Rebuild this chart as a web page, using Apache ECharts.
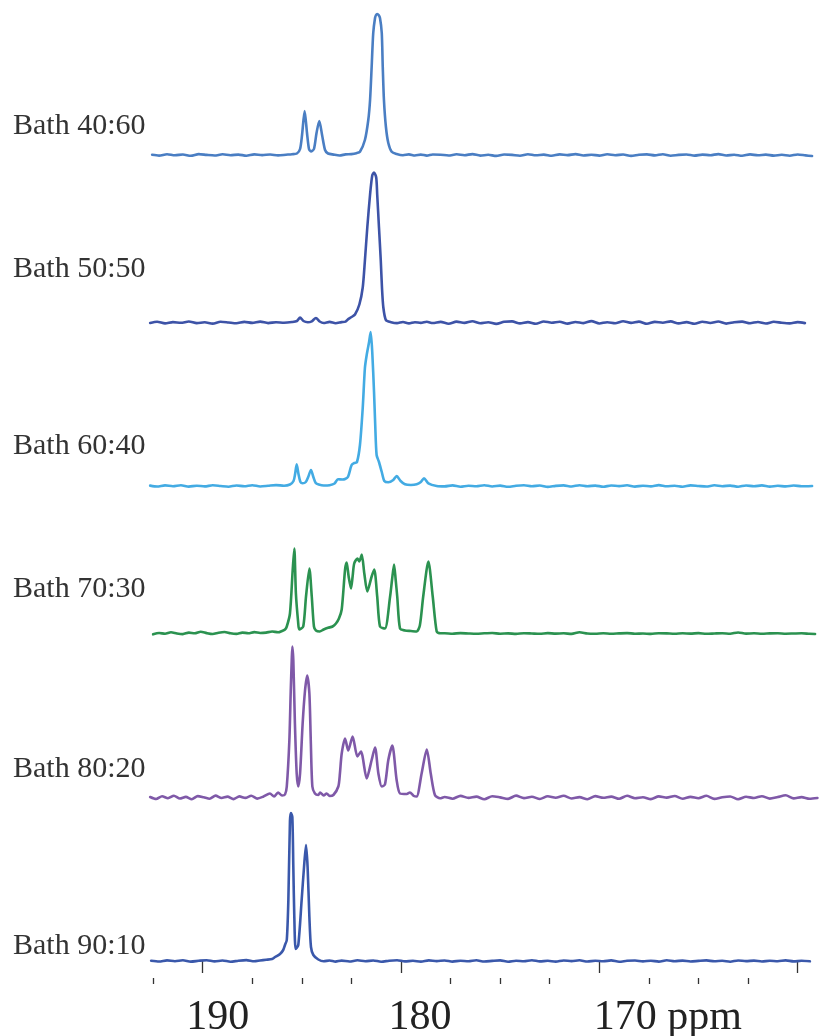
<!DOCTYPE html>
<html>
<head>
<meta charset="utf-8">
<script src="https://cdn.jsdelivr.net/npm/echarts@6/dist/echarts.min.js"></script>
<style>
  html, body { margin: 0; padding: 0; background: #ffffff; }
  #chart { width: 819px; height: 1036px; }
</style>
</head>
<body>
<div id="chart"></div>
<script>
// 13C NMR spectra (carbonyl region) for six bath compositions, stacked top to bottom.
// Each spectrum: [chemical shift (ppm), intensity (a.u.)], baseline = 0.

const sampleNames = ['Bath 40:60', 'Bath 50:50', 'Bath 60:40', 'Bath 70:30', 'Bath 80:20', 'Bath 90:10'];

const bath4060 = [
  [192.55, 0.2], [192.2, -0.6], [191.8, 0.8], [191.4, -0.3], [191.0, 0.5], [190.6, -0.8], [190.2, 0.9],
  [189.8, 0.1], [189.4, -0.5], [189.0, 0.7], [188.6, -0.2], [188.2, 0.4], [187.8, -0.7], [187.4, 0.6],
  [187.0, -0.1], [186.6, 0.5], [186.2, -0.4], [185.8, 0.3], [185.5, 0.8], [185.25, 1.5], [185.09, 6],
  [184.99, 20], [184.86, 44], [184.74, 22], [184.64, 6], [184.54, 3.5], [184.39, 6], [184.26, 22],
  [184.12, 34], [183.98, 20], [183.83, 5], [183.68, 1.5], [183.4, 0.4], [183.1, -0.5], [182.8, 0.6],
  [182.5, 0.9], [182.25, 1.8], [182.07, 3.3], [181.82, 15], [181.65, 35], [181.56, 55], [181.48, 88],
  [181.40, 122], [181.31, 137], [181.26, 140], [181.20, 141], [181.13, 140], [181.06, 137], [180.97, 122],
  [180.92, 88], [180.86, 55], [180.76, 28], [180.64, 12], [180.47, 3.3], [180.22, 1], [179.9, -0.3],
  [179.6, 0.6], [179.3, -0.5], [179.0, 0.4], [178.7, -0.6], [178.4, 0.5], [178.0, 0.3], [177.6, -0.5],
  [177.2, 0.7], [176.8, -0.2], [176.4, 0.9], [176.0, -0.6], [175.6, 0.2], [175.2, -0.9], [174.8, 0.5],
  [174.4, 0.1], [174.0, -0.7], [173.6, 0.8], [173.2, -0.3], [172.8, 0.4], [172.4, -0.8], [172.0, 0.6],
  [171.6, -0.1], [171.2, 0.9], [170.8, -0.5], [170.4, 0.3], [170.0, -0.6], [169.6, 0.7], [169.2, -0.2],
  [168.8, 0.5], [168.4, -0.9], [168.0, 0.2], [167.6, 0.6], [167.2, -0.4], [166.8, 0.8], [166.4, -0.7],
  [166.0, 0.1], [165.6, 0.5], [165.2, -0.6], [164.8, 0.4], [164.4, -0.2], [164.0, 0.9], [163.6, -0.5],
  [163.2, 0.3], [162.8, -0.8], [162.4, 0.6], [162.0, -0.3], [161.6, 0.4], [161.2, -0.6], [160.8, 0.2],
  [160.4, -0.7], [160.0, 0.5], [159.6, -0.4], [159.27, -1.0]
];

const bath5050 = [
  [192.65, -0.5], [192.3, 0.8], [191.9, -0.9], [191.5, 0.4], [191.1, -0.3], [190.7, 1.0], [190.3, -0.6],
  [189.9, 0.2], [189.5, -1.1], [189.1, 0.7], [188.7, 0.0], [188.3, -0.8], [187.9, 0.6], [187.5, -0.4],
  [187.1, 0.9], [186.7, -0.6], [186.3, 0.3], [185.9, -0.2], [185.5, 0.5], [185.25, 1.5], [185.09, 5],
  [184.92, 1.5], [184.7, 0.2], [184.5, 1.2], [184.29, 4.5], [184.1, 1.0], [183.9, -0.5], [183.6, 0.6],
  [183.3, -0.8], [183.0, 0.4], [182.8, 0.9], [182.66, 3.4], [182.49, 5.5], [182.32, 8], [182.10, 18],
  [181.93, 35], [181.82, 62], [181.70, 95], [181.56, 128], [181.45, 147], [181.36, 150], [181.25, 145],
  [181.20, 128], [181.11, 95], [181.02, 62], [180.96, 35], [180.89, 15], [180.76, 2.4], [180.5, 0.3],
  [180.2, -0.6], [179.9, 0.5], [179.6, -0.9], [179.3, 0.3], [179.0, -0.4], [178.7, 0.7], [178.4, -0.5],
  [178.0, 0.6], [177.6, -1.2], [177.2, 0.9], [176.8, -0.4], [176.4, 1.3], [176.0, -0.8], [175.6, 0.2],
  [175.2, -1.4], [174.8, 0.7], [174.4, 1.1], [174.0, -0.9], [173.6, 0.4], [173.2, -1.3], [172.8, 1.0],
  [172.4, -0.2], [172.0, 0.8], [171.6, -1.1], [171.2, 0.5], [170.8, -0.6], [170.4, 1.4], [170.0, -1.0],
  [169.6, 0.3], [169.2, -0.7], [168.8, 1.2], [168.4, -0.4], [168.0, 0.9], [167.6, -1.3], [167.2, 0.6],
  [166.8, -0.2], [166.4, 1.1], [166.0, -0.9], [165.6, 0.4], [165.2, -1.2], [164.8, 0.8], [164.4, -0.5],
  [164.0, 1.0], [163.6, -1.1], [163.2, 0.2], [162.8, 0.9], [162.4, -0.7], [162.0, 0.5], [161.6, -1.0],
  [161.2, 0.7], [160.8, -0.3], [160.4, -0.9], [160.0, 0.4], [159.63, -0.6]
];

const bath6040 = [
  [192.65, 0.4], [192.3, -0.5], [191.9, 0.6], [191.5, -0.2], [191.1, 0.8], [190.7, -0.6], [190.3, 0.3],
  [189.9, -0.4], [189.5, 0.7], [189.1, 0.0], [188.7, -0.7], [188.3, 0.5], [187.9, -0.3], [187.5, 0.8],
  [187.1, -0.5], [186.7, 0.2], [186.3, 0.9], [185.9, 0.3], [185.6, 1.5], [185.42, 5], [185.34, 12],
  [185.26, 21.7], [185.17, 12], [185.07, 4], [184.96, 2.7], [184.8, 4], [184.68, 9], [184.54, 16],
  [184.42, 9], [184.3, 3], [184.15, 1.5], [183.9, 0.5], [183.6, 0.8], [183.35, 2.5], [183.18, 6.7],
  [182.95, 6.5], [182.82, 7], [182.67, 9.3], [182.49, 21], [182.35, 23], [182.22, 24], [182.07, 41],
  [181.93, 78], [181.82, 118], [181.73, 131], [181.61, 144], [181.53, 154], [181.45, 134], [181.36, 94],
  [181.30, 61], [181.23, 31], [181.11, 24], [180.97, 14], [180.84, 5], [180.64, 3.7], [180.39, 6],
  [180.22, 10], [180.02, 5], [179.80, 1.7], [179.5, 1.0], [179.21, 1.7], [179.0, 4], [178.84, 7.7],
  [178.62, 2.7], [178.2, 0.0], [177.8, -0.4], [177.4, 0.6], [177.0, -0.7], [176.6, 0.3], [176.2, -0.2],
  [175.8, 0.8], [175.4, -0.5], [175.0, 0.4], [174.6, -0.8], [174.2, 0.2], [173.8, 0.7], [173.4, -0.3],
  [173.0, 0.5], [172.6, -0.9], [172.2, 0.1], [171.8, 0.6], [171.4, -0.5], [171.0, 0.8], [170.6, -0.2],
  [170.2, 0.4], [169.8, -0.7], [169.4, 0.5], [169.0, -0.1], [168.6, 0.7], [168.2, -0.6], [167.8, 0.3],
  [167.4, -0.4], [167.0, 0.9], [166.6, -0.3], [166.2, 0.2], [165.8, -0.8], [165.4, 0.6], [165.0, 0.0],
  [164.6, -0.5], [164.2, 0.7], [163.8, -0.2], [163.4, 0.4], [163.0, -0.7], [162.6, 0.5], [162.2, -0.3],
  [161.8, 0.6], [161.4, -0.6], [161.0, 0.2], [160.6, -0.4], [160.2, 0.5], [159.8, -0.3], [159.27, 0.0]
];

const bath7030 = [
  [192.5, -0.8], [192.2, 0.5], [191.9, -0.3], [191.6, 1.2], [191.3, 0.0], [191.0, -0.6], [190.7, 0.9],
  [190.4, 0.2], [190.1, 1.8], [189.8, 0.4], [189.5, -0.5], [189.2, 0.8], [188.9, 1.5], [188.6, 0.2],
  [188.3, -0.4], [188.0, 0.9], [187.7, 0.3], [187.4, 1.4], [187.1, 0.5], [186.8, 0.9], [186.5, 2.0],
  [186.2, 1.2], [186.0, 2.5], [185.85, 4], [185.76, 7], [185.60, 20], [185.46, 64], [185.38, 85],
  [185.30, 40], [185.19, 12], [185.13, 4], [184.93, 7], [184.79, 37], [184.62, 65], [184.50, 37],
  [184.39, 7], [184.29, 3], [184.1, 2], [183.9, 4], [183.68, 5.7], [183.45, 7], [183.28, 10],
  [183.13, 15], [182.99, 24], [182.82, 64], [182.74, 71], [182.64, 57], [182.52, 45], [182.44, 57],
  [182.36, 70], [182.20, 75], [182.10, 72], [181.98, 79], [181.85, 60], [181.70, 42], [181.48, 57],
  [181.35, 64], [181.20, 37], [181.06, 7], [180.81, 5], [180.55, 37], [180.45, 54], [180.35, 69],
  [180.27, 54], [180.19, 37], [180.05, 5], [179.8, 3], [179.5, 2.5], [179.21, 2], [179.05, 8],
  [178.88, 37], [178.62, 72], [178.40, 37], [178.20, 2], [178.03, 0.2], [177.8, 0.3], [177.4, -0.2],
  [177.0, 0.4], [176.6, 0.0], [176.2, -0.3], [175.8, 0.2], [175.4, 0.5], [175.0, -0.2], [174.6, 0.1],
  [174.2, -0.4], [173.8, 0.3], [173.4, 0.0], [173.0, -0.3], [172.6, 0.4], [172.2, -0.1], [171.8, 0.2],
  [171.4, -0.4], [171.0, 1.2], [170.6, 0.0], [170.2, -0.2], [169.8, 0.3], [169.4, -0.3], [169.0, 0.1],
  [168.6, 0.4], [168.2, -0.2], [167.8, 0.0], [167.4, -0.4], [167.0, 0.3], [166.6, 0.1], [166.2, -0.3],
  [165.8, 0.2], [165.4, -0.1], [165.0, 0.4], [164.6, -0.3], [164.2, 0.0], [163.8, 0.3], [163.4, -0.2],
  [163.0, 1.0], [162.6, -0.1], [162.2, 0.2], [161.8, -0.3], [161.4, 0.1], [161.0, 0.3], [160.6, -0.2],
  [160.2, 0.0], [159.8, 0.2], [159.4, -0.3], [159.12, -0.5]
];

const bath8020 = [
  [192.65, 0.5], [192.35, -1.5], [192.05, 1.2], [191.75, -0.8], [191.45, 1.8], [191.15, -1.0], [190.85, 0.6],
  [190.55, -1.7], [190.25, 1.4], [189.95, 0.2], [189.65, -1.2], [189.35, 1.9], [189.05, -0.5], [188.75, 0.9],
  [188.45, -1.6], [188.15, 1.1], [187.85, -0.4], [187.55, 1.7], [187.25, -1.1], [186.95, 0.8], [186.61, 4],
  [186.4, 1.0], [186.2, 5], [186.0, 2], [185.85, 3], [185.76, 11], [185.63, 57], [185.56, 107],
  [185.51, 137], [185.48, 151], [185.43, 137], [185.35, 74], [185.26, 24], [185.18, 11], [185.09, 24],
  [184.96, 74], [184.84, 107], [184.73, 122], [184.62, 104], [184.55, 57], [184.47, 11], [184.34, 4],
  [184.17, 2.5], [184.08, 5], [183.9, 2], [183.75, 4], [183.6, 1.5], [183.41, 2.5], [183.16, 11],
  [183.08, 24], [182.99, 44], [182.82, 59], [182.66, 47], [182.44, 61], [182.20, 41], [182.02, 46],
  [181.73, 19], [181.48, 37.5], [181.31, 50], [181.14, 24], [180.97, 11], [180.81, 13], [180.64, 37.5],
  [180.44, 52], [180.22, 17.5], [180.05, 4], [179.71, 3.5], [179.55, 5], [179.35, 1.5], [179.21, 1],
  [178.96, 24], [178.70, 48], [178.50, 24], [178.29, 2.5], [178.03, -0.8], [177.8, 0.5], [177.4, -1.2],
  [177.0, 1.6], [176.6, -0.4], [176.2, 0.9], [175.8, -1.8], [175.4, 1.3], [175.0, 0.1], [174.6, -1.4],
  [174.2, 1.9], [173.8, -0.6], [173.4, 0.8], [173.0, -1.5], [172.6, 1.2], [172.2, -0.2], [171.8, 1.7],
  [171.4, -1.0], [171.0, 0.4], [170.6, -1.7], [170.2, 1.4], [169.8, -0.3], [169.4, 0.9], [169.0, -1.3],
  [168.6, 1.8], [168.2, -0.7], [167.8, 0.3], [167.4, -1.6], [167.0, 1.1], [166.6, -0.1], [166.2, 1.5],
  [165.8, -1.2], [165.4, 0.6], [165.0, -0.8], [164.6, 1.7], [164.2, -1.4], [163.8, 0.2], [163.4, 1.0],
  [163.0, -1.8], [162.6, 0.7], [162.2, -0.5], [161.8, 1.3], [161.4, -1.1], [161.0, 0.5], [160.6, 2.2],
  [160.2, -0.9], [159.8, 0.4], [159.4, -1.2], [159.0, -0.5]
];

const bath9010 = [
  [192.6, 0.3], [192.2, -0.5], [191.8, 0.6], [191.4, -0.2], [191.0, 0.7], [190.6, -0.6], [190.2, 0.2],
  [189.8, 0.8], [189.4, -0.4], [189.0, 0.5], [188.6, -0.7], [188.2, 0.3], [187.8, 0.9], [187.4, -0.3],
  [187.11, 0.5], [186.8, 1.2], [186.5, 2.0], [186.35, 4], [186.10, 7], [185.94, 11], [185.85, 16],
  [185.76, 21], [185.68, 61], [185.60, 140], [185.55, 148], [185.48, 144], [185.43, 94], [185.38, 44],
  [185.31, 12], [185.18, 16], [185.01, 61], [184.89, 94], [184.79, 116], [184.71, 94], [184.62, 44],
  [184.54, 14], [184.42, 6], [184.17, 1.5], [183.9, -0.3], [183.6, 0.5], [183.3, -0.6], [183.0, 0.4],
  [182.6, -0.5], [182.2, 0.7], [181.8, -0.2], [181.4, 0.5], [181.0, -0.7], [180.6, 0.3], [180.2, 0.8],
  [179.8, -0.4], [179.4, 0.2], [179.0, -0.6], [178.6, 0.6], [178.2, -0.1], [177.8, 0.5], [177.4, -0.6],
  [177.0, 0.3], [176.6, -0.3], [176.2, 0.7], [175.8, -0.5], [175.4, 0.1], [175.0, 0.6], [174.6, -0.7],
  [174.2, 0.3], [173.8, -0.2], [173.4, 0.8], [173.0, -0.4], [172.6, 0.2], [172.2, -0.6], [171.8, 0.5],
  [171.4, -0.1], [171.0, 0.7], [170.6, -0.5], [170.2, 0.3], [169.8, -0.3], [169.4, 0.6], [169.0, -0.7],
  [168.6, 0.2], [168.2, 0.5], [167.8, -0.4], [167.4, 0.3], [167.0, -0.6], [166.6, 0.8], [166.2, -0.2],
  [165.8, 0.4], [165.4, -0.5], [165.0, 0.1], [164.6, 0.6], [164.2, -0.3], [163.8, 0.2], [163.4, -0.7],
  [163.0, 0.5], [162.6, -0.1], [162.2, 0.4], [161.8, -0.5], [161.4, 0.3], [161.0, -0.2], [160.6, 0.6],
  [160.2, -0.4], [159.8, 0.2], [159.38, -0.3]
];

const spectra = [bath4060, bath5050, bath6040, bath7030, bath8020, bath9010];

// Chemical-shift axis ticks and labels (ppm)
const majorTicks = [190, 180, 170, 160];
const minorTicks = [192.5, 187.5, 185, 182.5, 177.5, 175, 172.5, 167.5, 165, 162.5];
const tickLabels = [190, 180, 170];
const axisUnit = 'ppm';

// ---- styling / layout ----
const lineColors = ['#4a7ec3', '#3d53a7', '#43abe3', '#2b9250', '#7f59a8', '#3a58ab'];
const baselineY = [155, 322.5, 486, 633.5, 797.5, 961];
const labelY = [126, 269, 446, 589, 769, 946];
const PPM_MIN = 159.0, PPM_MAX = 192.7;
const PX_PER_PPM = 19.83;
const X_AT_190 = 202.7;
const gridLeft = X_AT_190 - (PPM_MAX - 190) * PX_PER_PPM;
const gridWidth = (PPM_MAX - PPM_MIN) * PX_PER_PPM;
const Y_MAX = 140, Y_MIN = -10, AXIS_Y = 978;
const serif = '"Liberation Serif", "Times New Roman", serif';

const grids = [], xAxes = [], yAxes = [], series = [];
spectra.forEach((data, i) => {
  const last = i === spectra.length - 1;
  const yMin = last ? -(AXIS_Y - baselineY[i]) : Y_MIN;
  grids.push({
    left: gridLeft, width: gridWidth,
    top: baselineY[i] - Y_MAX, height: Y_MAX - yMin,
    containLabel: false, outerBoundsMode: 'none'
  });
  xAxes.push({
    type: 'value', gridIndex: i, min: PPM_MIN, max: PPM_MAX, inverse: true,
    position: 'bottom', show: last,
    axisLine: { show: false }, splitLine: { show: false },
    axisTick: { show: last, length: 12, lineStyle: { color: '#333', width: 1.3 }, customValues: majorTicks },
    axisLabel: {
      show: last, customValues: tickLabels, margin: 19,
      formatter: v => v === 190 ? '{a|190}' : v === 180 ? '{b|180}' : '{c|170 ' + axisUnit + '}',
      rich: {
        a: { fontFamily: serif, fontSize: 42, color: '#222', padding: [0, 0, 0, 30] },
        b: { fontFamily: serif, fontSize: 42, color: '#222', padding: [0, 0, 0, 38] },
        c: { fontFamily: serif, fontSize: 42, color: '#222', padding: [0, 0, 0, 137] }
      }
    }
  });
  yAxes.push({
    type: 'value', gridIndex: i, min: yMin, max: Y_MAX, show: false
  });
  series.push({
    name: sampleNames[i], type: 'line', xAxisIndex: i, yAxisIndex: i,
    data: data, showSymbol: false, clip: false, smooth: 0.25,
    lineStyle: { color: lineColors[i], width: 2.6, cap: 'round', join: 'round' },
    itemStyle: { color: lineColors[i] },
    animation: false
  });
});

// minor ticks of the shift axis, sharing the bottom grid
xAxes.push({
  type: 'value', gridIndex: spectra.length - 1, min: PPM_MIN, max: PPM_MAX, inverse: true,
  position: 'bottom',
  axisLine: { show: false }, splitLine: { show: false }, axisLabel: { show: false },
  axisTick: { show: true, length: 6, lineStyle: { color: '#333', width: 1.3 }, customValues: minorTicks }
});

const chart = echarts.init(document.getElementById('chart'), null, { renderer: 'canvas' });
chart.setOption({
  backgroundColor: '#ffffff',
  animation: false,
  grid: grids,
  xAxis: xAxes,
  yAxis: yAxes,
  series: series,
  graphic: sampleNames.map((name, i) => ({
    type: 'text', x: 13, y: labelY[i],
    style: { text: name, font: '30px ' + serif, fill: '#333', verticalAlign: 'middle', align: 'left' }
  }))
});
</script>
</body>
</html>
